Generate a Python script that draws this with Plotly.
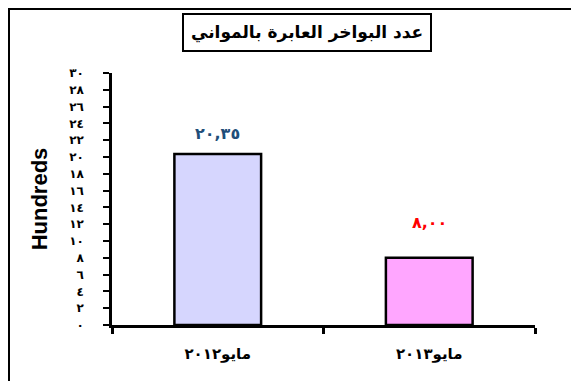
import plotly.graph_objects as go

categories = ["مايو٢٠١٢", "مايو٢٠١٣"]
values = [20.35, 8.00]
value_labels = ["٢٠,٣٥", "٨,٠٠"]
bar_colors = ["#D6D6FE", "#FFA6FF"]
label_colors = ["#1F4E79", "#FF0000"]
y_ticks = list(range(0, 31, 2))
y_tick_text = ["٠", "٢", "٤", "٦", "٨", "١٠", "١٢", "١٤", "١٦", "١٨",
               "٢٠", "٢٢", "٢٤", "٢٦", "٢٨", "٣٠"]
title = "عدد البواخر العابرة بالمواني"

ARABIC = "DejaVu Sans"

# page has an 8px body margin, so the figure is shrunk to fit the window
OFF = 8
W, H = 579 - OFF, 381 - OFF
ml, mt = 112 - OFF, 73 - OFF
pw, ph = 423, 252
mr, mb = W - ml - pw, H - mt - ph


def px_to_paper(x, y):
    # page pixels -> paper coordinates
    return (x - OFF - ml) / pw, (mt + ph - (y - OFF)) / ph


fig = go.Figure()
fig.add_trace(
    go.Bar(
        x=categories,
        y=values,
        marker=dict(color=bar_colors, line=dict(color="black", width=2.5)),
        width=0.41,
        hoverinfo="x+y",
    )
)

tx, ty = px_to_paper(307, 33)
bx0, by1 = px_to_paper(OFF, OFF)

annotations = [
    dict(
        text=title,
        xref="paper", yref="paper",
        x=tx, y=ty, xanchor="center", yanchor="middle",
        showarrow=False,
        font=dict(family=ARABIC, size=17, color="black", weight="bold"),
        bordercolor="black", borderwidth=2, borderpad=7,
        bgcolor="white",
    )
]
# value labels sit a little above each bar
for cat, val, lab, col, shift in zip(categories, values, value_labels,
                                     label_colors, (9, 24)):
    annotations.append(
        dict(
            x=cat, y=val, text=lab, showarrow=False,
            yanchor="bottom", yshift=shift,
            font=dict(family=ARABIC, size=16, color=col, weight="bold"),
        )
    )

fig.update_layout(
    width=W,
    height=H,
    margin=dict(l=ml, r=mr, t=mt, b=mb),
    paper_bgcolor="white",
    plot_bgcolor="white",
    showlegend=False,
    font=dict(family=ARABIC, color="black"),
    annotations=annotations,
    shapes=[
        dict(
            type="rect", xref="paper", yref="paper",
            x0=bx0 + 1 / pw, x1=1.5,
            y0=-0.5, y1=by1 - 1 / ph,
            line=dict(color="black", width=2),
        )
    ],
)

fig.update_xaxes(
    showline=True, linecolor="black", linewidth=3,
    ticks="outside", tickson="boundaries", ticklen=6, tickwidth=3,
    tickcolor="black",
    tickfont=dict(family=ARABIC, size=15, color="black", weight="bold"),
    ticklabelstandoff=13,
    showgrid=False, zeroline=False,
)
fig.update_yaxes(
    range=[0, 30],
    tickvals=y_ticks,
    # trailing no-break spaces push the labels away from the axis
    ticktext=[t + "\u00a0" * 4 for t in y_tick_text],
    showline=True, linecolor="black", linewidth=3,
    ticks="outside", ticklen=6, tickwidth=2, tickcolor="black",
    tickfont=dict(family=ARABIC, size=12, color="black", weight="bold"),
    showgrid=False, zeroline=False,
    title=dict(text="<b>Hundreds</b>", standoff=16,
               font=dict(family="Liberation Sans", size=22, color="black")),
)

fig.write_html("out.html")
